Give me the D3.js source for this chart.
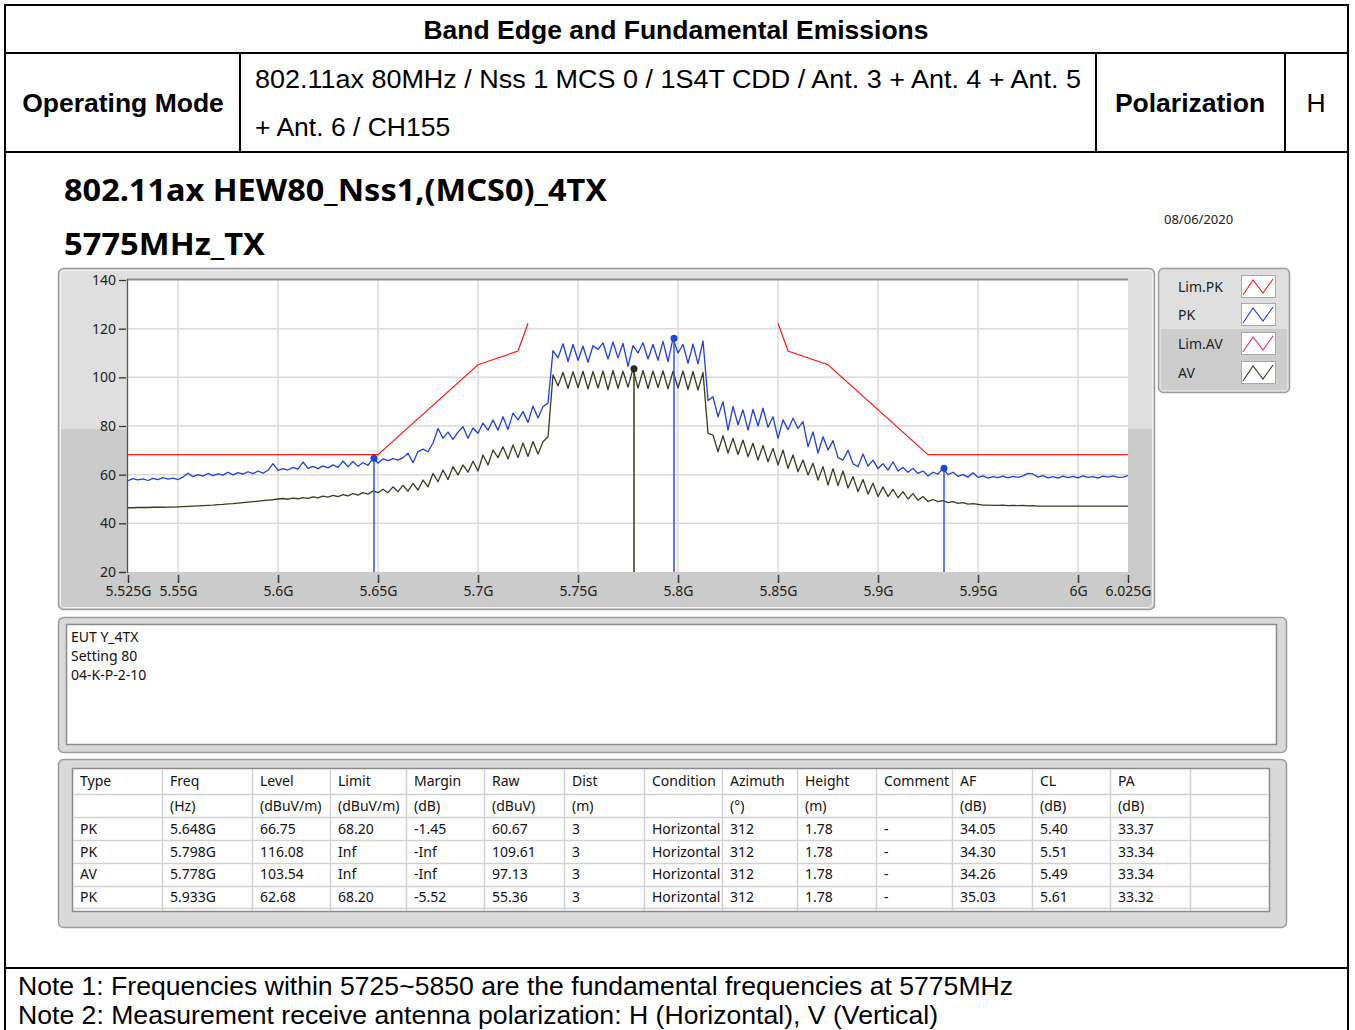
<!DOCTYPE html>
<html>
<head>
<meta charset="utf-8">
<script src="https://cdn.jsdelivr.net/npm/d3@7"></script>
<style>
  body { margin: 0; background: #fff; }
  #page text { font-family: "Noto Sans", sans-serif; }
  #page text.doc { font-family: "Liberation Sans", Arial, sans-serif; }
</style>
</head>
<body>
<svg id="page" width="1355" height="1030"></svg>
<script>
// analyzer sweep grid (MHz)
const sweepStartMHz = 5525;
const sweepStepMHz = 2.5;

// PK trace, dBuV/m, one value per sweep point
const pkLevels = [
  57.5, 58.4, 57.9, 58.3, 57.6, 58.5, 58.0, 58.8, 58.2, 58.6,
  58.0, 59.0, 60.6, 59.2, 60.0, 59.4, 60.5, 59.6, 60.3, 59.8,
  61.0, 59.9, 60.8, 60.2, 61.2, 60.4, 61.5, 60.6, 61.8, 64.5,
  61.8, 62.5, 61.9, 63.0, 62.3, 65.2, 62.6, 63.4, 62.5, 63.6,
  62.8, 64.0, 63.0, 65.6, 63.2, 65.4, 63.4, 65.0, 63.8, 66.7,
  64.8, 66.5, 65.8, 66.6, 66.0, 67.0, 68.8, 64.9, 69.5, 70.5,
  69.4, 73.0, 79.0, 75.0, 77.5, 74.5, 77.5, 79.7, 75.0, 79.2,
  77.0, 81.2, 78.3, 82.5, 78.3, 83.8, 78.6, 85.3, 82.5, 85.9,
  81.5, 88.2, 83.3, 87.9, 89.4, 111.0, 108.0, 113.8, 106.5, 113.5,
  107.0, 112.8, 106.2, 113.0, 111.5, 114.2, 107.5, 114.5, 108.0, 114.0,
  104.5, 113.0, 110.0, 114.2, 107.5, 113.5, 107.0, 114.8, 106.5, 116.0,
  110.0, 113.5, 105.8, 113.6, 105.5, 115.0, 90.5, 92.0, 83.8, 90.0,
  78.3, 88.0, 80.5, 86.6, 78.3, 86.8, 80.0, 87.3, 79.5, 83.8,
  74.9, 82.5, 78.5, 83.2, 79.0, 81.8, 71.5, 77.6, 68.9, 75.6,
  70.1, 74.0, 67.0, 66.0, 70.0, 64.5, 63.3, 68.5, 63.5, 66.0,
  62.5, 64.5, 61.9, 65.3, 61.5, 63.0, 61.0, 62.6, 60.5, 61.5,
  59.5, 61.0, 60.2, 62.6, 60.0, 61.0, 59.3, 60.0, 59.0, 60.8,
  58.9, 59.5, 58.6, 59.2, 58.8, 59.4, 58.7, 59.3, 58.9, 59.5,
  60.5, 60.3, 59.0, 59.6, 58.7, 59.2, 58.6, 59.4, 58.8, 59.3,
  58.7, 59.5, 58.9, 59.2, 58.6, 59.4, 59.0, 59.5, 58.9, 59.0,
  59.6
];

// AV trace, dBuV/m
const avLevels = [
  46.4, 46.4, 46.5, 46.5, 46.5, 46.6, 46.6, 46.6, 46.7, 46.7,
  46.8, 46.9, 47.0, 47.1, 47.2, 47.3, 47.4, 47.5, 47.7, 47.8,
  48.0, 48.1, 48.3, 48.5, 48.7, 48.9, 49.1, 49.3, 49.5, 49.7,
  50.0, 50.2, 49.9, 50.4, 50.1, 50.6, 50.3, 50.9, 50.5, 51.2,
  50.8, 51.5, 51.0, 51.8, 51.3, 52.2, 51.6, 52.6, 52.0, 53.3,
  52.6, 54.0, 52.6, 55.0, 53.0, 55.6, 53.2, 56.4, 53.7, 57.8,
  55.0, 60.5, 57.1, 61.9, 58.0, 63.3, 59.9, 64.0, 61.0, 65.5,
  61.5, 68.1, 64.0, 70.1, 67.0, 71.5, 66.5, 72.2, 67.0, 73.0,
  67.5, 73.6, 68.5, 73.5, 75.6, 101.0, 96.5, 102.0, 95.5, 102.3,
  95.8, 102.5, 95.2, 102.4, 95.6, 102.6, 95.0, 102.8, 95.5, 102.5,
  96.0, 103.5, 95.6, 102.8, 95.4, 102.6, 95.8, 102.7, 95.3, 102.5,
  95.6, 102.6, 95.0, 102.4, 94.8, 102.0, 77.0, 76.3, 69.4, 76.0,
  68.9, 74.9, 68.3, 74.2, 67.4, 72.9, 66.0, 72.0, 65.3, 70.8,
  64.0, 70.1, 62.6, 68.1, 61.2, 66.0, 59.9, 64.7, 57.8, 63.3,
  55.7, 62.5, 55.5, 61.5, 54.5, 59.2, 53.0, 58.0, 52.0, 56.5,
  51.0, 55.0, 51.0, 54.0, 50.5, 53.0, 50.0, 52.2, 49.5, 51.0,
  49.0, 49.8, 48.9, 49.3, 48.5, 48.9, 48.2, 48.5, 47.9, 48.1,
  47.8, 47.5, 47.5, 47.4, 47.4, 47.5, 47.3, 47.4, 47.3, 47.4,
  47.2, 47.3, 47.1, 47.1, 47.1, 47.1, 47.1, 47.1, 47.1, 47.1,
  47.1, 47.1, 47.1, 47.1, 47.1, 47.1, 47.1, 47.1, 47.1, 47.1,
  47.1
];

// peak limit, lower and upper band edge
const limLowFreqMHz = [5525, 5650, 5700, 5720, 5725];
const limLowLevel = [68.2, 68.2, 105.2, 110.8, 122.2];
const limHighFreqMHz = [5850, 5855, 5875, 5925, 6025];
const limHighLevel = [122.2, 110.8, 105.2, 68.2, 68.2];

const yTicks = [20, 40, 60, 80, 100, 120, 140];
const xTicksMHz = [5525, 5550, 5600, 5650, 5700, 5750, 5800, 5850, 5900, 5950, 6000, 6025];
const xTickLabels = ["5.525G", "5.55G", "5.6G", "5.65G", "5.7G", "5.75G", "5.8G", "5.85G", "5.9G", "5.95G", "6G", "6.025G"];

const legendNames = ["Lim.PK", "PK", "Lim.AV", "AV"];
const legendColors = ["#ff1a1a", "#2040dc", "#e0307f", "#3a3a1c"];

const noteLines = ["EUT Y_4TX", "Setting 80", "04-K-P-2-10"];

// marker table
const colHeads = ["Type", "Freq", "Level", "Limit", "Margin", "Raw", "Dist", "Condition", "Azimuth", "Height", "Comment", "AF", "CL", "PA", ""];
const colUnits = ["", "(Hz)", "(dBuV/m)", "(dBuV/m)", "(dB)", "(dBuV)", "(m)", "", "(\u00b0)", "(m)", "", "(dB)", "(dB)", "(dB)", ""];
const mkType = ["PK", "PK", "AV", "PK"];
const mkFreqGHz = [5.648, 5.798, 5.778, 5.933];
const mkLevel = [66.75, 116.08, 103.54, 62.68];
const mkLimit = ["68.20", "Inf", "Inf", "68.20"];
const mkMargin = ["-1.45", "-Inf", "-Inf", "-5.52"];
const mkRaw = [60.67, 109.61, 97.13, 55.36];
const mkDist = [3, 3, 3, 3];
const mkCondition = ["Horizontal", "Horizontal", "Horizontal", "Horizontal"];
const mkAzimuth = [312, 312, 312, 312];
const mkHeight = [1.78, 1.78, 1.78, 1.78];
const mkComment = ["-", "-", "-", "-"];
const mkAF = [34.05, 34.30, 34.26, 35.03];
const mkCL = [5.40, 5.51, 5.49, 5.61];
const mkPA = [33.37, 33.34, 33.34, 33.32];

const svg = d3.select("#page");

// ---------- document table frame ----------
const doc = svg.append("g");
const black = "#000";
[[4, 5, 1349, 5], [4, 53, 1349, 53], [4, 152, 1349, 152], [4, 968, 1349, 968],
 [5, 4, 5, 1030], [1348, 4, 1348, 1030],
 [240, 53, 240, 152], [1096, 53, 1096, 152], [1285, 53, 1285, 152]]
  .forEach(l => doc.append("line").attr("x1", l[0]).attr("y1", l[1]).attr("x2", l[2]).attr("y2", l[3])
    .attr("stroke", black).attr("stroke-width", 2));

function docText(t, x, y, anchor, bold, len) {
  const el = doc.append("text").attr("class", "doc").attr("x", x).attr("y", y)
    .attr("text-anchor", anchor).attr("font-size", 26.5)
    .attr("font-weight", bold ? "bold" : "normal").attr("fill", "#000").text(t);
  if (len) el.attr("textLength", len).attr("lengthAdjust", "spacingAndGlyphs");
}
docText("Band Edge and Fundamental Emissions", 676, 39, "middle", true);
docText("Operating Mode", 123, 112, "middle", true);
docText("802.11ax 80MHz / Nss 1 MCS 0 / 1S4T CDD / Ant. 3 + Ant. 4 + Ant. 5", 255, 88, "start", false, 826);
docText("+ Ant. 6 / CH155", 255, 136, "start", false);
docText("Polarization", 1190, 112, "middle", true);
docText("H", 1316, 112, "middle", false);
docText("Note 1: Frequencies within 5725~5850 are the fundamental frequencies at 5775MHz", 18, 995, "start", false, 995);
docText("Note 2: Measurement receive antenna polarization: H (Horizontal), V (Vertical)", 18, 1024, "start", false, 920);

// ---------- chart titles ----------
svg.append("text").attr("x", 64).attr("y", 201).attr("font-size", 31).attr("font-weight", "bold")
  .attr("fill", "#000").attr("textLength", 543).attr("lengthAdjust", "spacingAndGlyphs")
  .text("802.11ax HEW80_Nss1,(MCS0)_4TX");
svg.append("text").attr("x", 64).attr("y", 255).attr("font-size", 31).attr("font-weight", "bold")
  .attr("fill", "#000").attr("textLength", 201).attr("lengthAdjust", "spacingAndGlyphs")
  .text("5775MHz_TX");
svg.append("text").attr("x", 1164).attr("y", 224).attr("font-size", 13)
  .attr("fill", "#222").text("08/06/2020");

// ---------- graph panel ----------
const x = d3.scaleLinear().domain([5525, 6025]).range([128, 1128]);
const y = d3.scaleLinear().domain([20, 140]).range([572, 280]);

const panel = svg.append("g");
panel.append("rect").attr("x", 58.5).attr("y", 268.5).attr("width", 1096).attr("height", 341).attr("rx", 5)
  .attr("fill", "#dfdfdf").attr("stroke", "#9c9c9c").attr("stroke-width", 1.5);
panel.append("rect").attr("x", 60.5).attr("y", 429).attr("width", 1092).attr("height", 179)
  .attr("fill", "#cbcbcb");
panel.append("rect").attr("x", 60.5).attr("y", 270.5).attr("width", 1092).attr("height", 337).attr("rx", 4)
  .attr("fill", "none").attr("stroke", "#f2f2f2").attr("stroke-width", 1);
panel.append("rect").attr("x", x.range()[0]).attr("y", y.range()[1]).attr("width", x.range()[1] - x.range()[0])
  .attr("height", y.range()[0] - y.range()[1]).attr("fill", "#fff");

// grid
panel.append("g").selectAll("line").data(xTicksMHz.slice(1, -1)).join("line")
  .attr("x1", d => x(d)).attr("x2", d => x(d)).attr("y1", 280).attr("y2", 572)
  .attr("stroke", "#dadada").attr("stroke-width", 1.5);
panel.append("g").selectAll("line").data(yTicks.slice(1, -1)).join("line")
  .attr("x1", 128).attr("x2", 1128).attr("y1", d => y(d)).attr("y2", d => y(d))
  .attr("stroke", "#dadada").attr("stroke-width", 1.5);
// plot frame
panel.append("line").attr("x1", 127).attr("x2", 1128).attr("y1", 279.5).attr("y2", 279.5)
  .attr("stroke", "#8c8c8c").attr("stroke-width", 2);
panel.append("line").attr("x1", 127.5).attr("x2", 127.5).attr("y1", 279).attr("y2", 573)
  .attr("stroke", "#555").attr("stroke-width", 1.3);

// axes
const yAxis = d3.axisLeft(y).tickValues(yTicks).tickSize(7).tickPadding(3);
const gy = panel.append("g").attr("transform", "translate(126,0)").call(yAxis);
gy.select(".domain").remove();
gy.selectAll(".tick line").attr("stroke", "#333").attr("stroke-width", 1.3);
gy.selectAll(".tick text").attr("font-size", 14).attr("fill", "#222")
  .attr("font-family", "Noto Sans, sans-serif");

const xAxis = d3.axisBottom(x).tickValues(xTicksMHz).tickFormat((d, i) => xTickLabels[i]).tickSize(8).tickPadding(3);
const gx = panel.append("g").attr("transform", "translate(0,575)").call(xAxis);
gx.select(".domain").remove();
gx.selectAll(".tick line").attr("stroke", "#333").attr("stroke-width", 1.5);
gx.selectAll(".tick text").attr("font-size", 14).attr("fill", "#222")
  .attr("font-family", "Noto Sans, sans-serif");

// traces
svg.append("clipPath").attr("id", "plotclip").append("rect")
  .attr("x", 128).attr("y", 280).attr("width", 1000).attr("height", 292);
const traces = panel.append("g").attr("clip-path", "url(#plotclip)");

const sweepLine = d3.line()
  .x((d, i) => x(sweepStartMHz + i * sweepStepMHz))
  .y(d => y(d));
const limLine = d3.line().x(d => x(d[0])).y(d => y(d[1]));

traces.append("path").attr("d", limLine(d3.zip(limLowFreqMHz, limLowLevel)))
  .attr("fill", "none").attr("stroke", legendColors[0]).attr("stroke-width", 1.2);
traces.append("path").attr("d", limLine(d3.zip(limHighFreqMHz, limHighLevel)))
  .attr("fill", "none").attr("stroke", legendColors[0]).attr("stroke-width", 1.2);
traces.append("path").attr("d", sweepLine(avLevels))
  .attr("fill", "none").attr("stroke", legendColors[3]).attr("stroke-width", 1.3).attr("stroke-linejoin", "round");
traces.append("path").attr("d", sweepLine(pkLevels))
  .attr("fill", "none").attr("stroke", legendColors[1]).attr("stroke-width", 1.3).attr("stroke-linejoin", "round");

// markers
const markerColor = t => t === "AV" ? legendColors[3] : "#2f55e0";
const mk = traces.append("g").selectAll("g").data(mkType).join("g");
mk.append("line")
  .attr("x1", (d, i) => x(mkFreqGHz[i] * 1000)).attr("x2", (d, i) => x(mkFreqGHz[i] * 1000))
  .attr("y1", (d, i) => y(mkLevel[i])).attr("y2", 572)
  .attr("stroke", d => markerColor(d)).attr("stroke-width", 1.5);
mk.append("circle")
  .attr("cx", (d, i) => x(mkFreqGHz[i] * 1000)).attr("cy", (d, i) => y(mkLevel[i]))
  .attr("r", 3.5).attr("fill", d => d === "AV" ? "#2c2c14" : "#1f45d8");

// ---------- legend ----------
const lg = svg.append("g");
lg.append("rect").attr("x", 1158.5).attr("y", 268.5).attr("width", 131).attr("height", 124).attr("rx", 5)
  .attr("fill", "#dfdfdf").attr("stroke", "#9c9c9c").attr("stroke-width", 1.5);
lg.append("rect").attr("x", 1161).attr("y", 329).attr("width", 126).attr("height", 61).attr("fill", "#cdcdcd");
const rowY = [287, 315, 344, 373];
legendNames.forEach((name, i) => {
  const c = rowY[i];
  lg.append("text").attr("x", 1178).attr("y", c + 5).attr("font-size", 14).attr("fill", "#222").text(name);
  lg.append("rect").attr("x", 1241.5).attr("y", c - 11.5).attr("width", 34).attr("height", 22)
    .attr("fill", "#fff").attr("stroke", "#a8a8a8");
  lg.append("path").attr("d", d3.line()([[1243, c + 8], [1253, c - 7], [1263, c + 6], [1273, c - 8]]))
    .attr("fill", "none").attr("stroke", legendColors[i]).attr("stroke-width", 1.1);
});

// ---------- notes box ----------
const nb = svg.append("g");
nb.append("rect").attr("x", 58.5).attr("y", 617.5).attr("width", 1228).attr("height", 135).attr("rx", 5)
  .attr("fill", "#d9d9d9").attr("stroke", "#9c9c9c").attr("stroke-width", 1.5);
nb.append("rect").attr("x", 66.5).attr("y", 624.5).attr("width", 1210).attr("height", 120)
  .attr("fill", "#fff").attr("stroke", "#8a8a8a").attr("stroke-width", 1.5);
nb.selectAll("text.note").data(noteLines).join("text").attr("class", "note")
  .attr("x", 71).attr("y", (d, i) => 642 + i * 19).attr("font-size", 14).attr("fill", "#111").text(d => d);

// ---------- marker table ----------
const tb = svg.append("g");
tb.append("rect").attr("x", 58.5).attr("y", 759.5).attr("width", 1228).attr("height", 168).attr("rx", 5)
  .attr("fill", "#d9d9d9").attr("stroke", "#9c9c9c").attr("stroke-width", 1.5);
tb.append("rect").attr("x", 72.5).attr("y", 768.5).attr("width", 1197).attr("height", 143)
  .attr("fill", "#fff").attr("stroke", "#8a8a8a").attr("stroke-width", 1.5);

const colX = [72, 162, 252, 330, 406, 484, 564, 644, 722, 797, 876, 952, 1032, 1110, 1190, 1270];
const rowLines = [794, 817, 840, 863, 886, 908];
tb.selectAll("line.r").data(rowLines).join("line").attr("class", "r")
  .attr("x1", 73).attr("x2", 1269).attr("y1", d => d + 0.5).attr("y2", d => d + 0.5)
  .attr("stroke", "#d2d2d2").attr("stroke-width", 1.5);
tb.selectAll("line.c").data(colX.slice(1, -1)).join("line").attr("class", "c")
  .attr("x1", d => d + 0.5).attr("x2", d => d + 0.5).attr("y1", 769).attr("y2", 911)
  .attr("stroke", "#d2d2d2").attr("stroke-width", 1.5);

const tableRows = [colHeads, colUnits].concat(mkType.map((t, i) => [
  t, mkFreqGHz[i].toFixed(3) + "G", mkLevel[i].toFixed(2), mkLimit[i], mkMargin[i],
  mkRaw[i].toFixed(2), String(mkDist[i]), mkCondition[i], String(mkAzimuth[i]),
  mkHeight[i].toFixed(2), mkComment[i], mkAF[i].toFixed(2), mkCL[i].toFixed(2), mkPA[i].toFixed(2), ""
]));
const rowBase = [786, 811, 834, 857, 879, 902];
tableRows.forEach((row, r) => {
  row.forEach((cell, c) => {
    if (!cell) return;
    tb.append("text").attr("x", colX[c] + 8).attr("y", rowBase[r]).attr("font-size", 14)
      .attr("fill", "#111").text(cell);
  });
});
</script>
</body>
</html>
